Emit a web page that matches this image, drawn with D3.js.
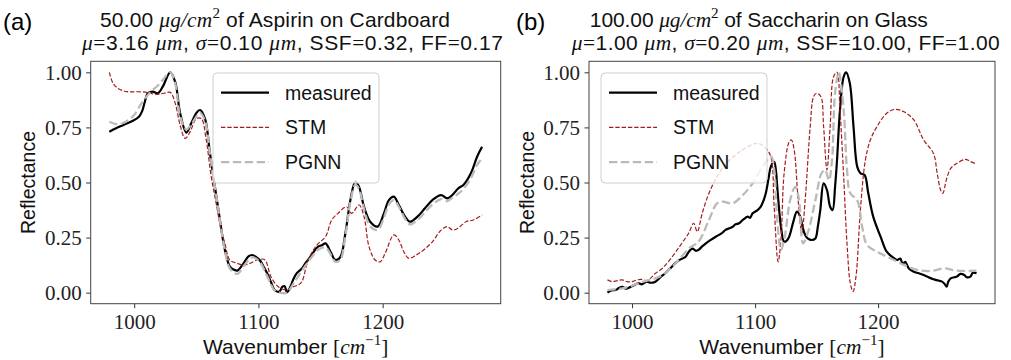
<!DOCTYPE html>
<html><head><meta charset="utf-8">
<script src="https://cdn.jsdelivr.net/npm/d3@7"></script>
<style>body{margin:0;background:#fff} text{white-space:pre}</style>
</head><body>
<svg id="c" width="1011" height="360"></svg>
<script>
// ---------- data ----------
const xTicks = [1000, 1100, 1200];
const yTicks = [0, 0.25, 0.5, 0.75, 1.0];
const seriesNames = ["measured", "STM", "PGNN"];
const panelLetters = ["(a)", "(b)"];

// Panel (a): Aspirin on Cardboard  [wavenumber, reflectance]
const aspirinMeasured = [[980,0.73],[985,0.745],[991,0.76],[999,0.78],[1004,0.80],[1006.5,0.825],[1008.5,0.865],[1011,0.905],[1015,0.912],[1019,0.905],[1023,0.935],[1029,1.0],[1033,0.957],[1037,0.814],[1042,0.726],[1046,0.77],[1050,0.815],[1053,0.829],[1057,0.79],[1061,0.632],[1065,0.48],[1069,0.33],[1073,0.194],[1077,0.118],[1080,0.105],[1083,0.10],[1088,0.133],[1092,0.165],[1095,0.171],[1098,0.162],[1101,0.148],[1104,0.12],[1107,0.088],[1110,0.05],[1113,0.012],[1117,0.005],[1119,0.025],[1121,0.03],[1123,0.002],[1126,0.03],[1128,0.06],[1131,0.09],[1135,0.11],[1138,0.135],[1142,0.163],[1145,0.19],[1148,0.209],[1151,0.215],[1154,0.224],[1158,0.186],[1162,0.148],[1166,0.163],[1170,0.27],[1174,0.42],[1178,0.504],[1181,0.48],[1185,0.39],[1190,0.322],[1196,0.30],[1201,0.36],[1205,0.42],[1209,0.436],[1213,0.398],[1218,0.345],[1222,0.322],[1228,0.345],[1234,0.383],[1240,0.42],[1247,0.443],[1252,0.428],[1256,0.443],[1261,0.474],[1265,0.489],[1271,0.542],[1276,0.617],[1280,0.662]];
const aspirinSTM = [[980,1.0],[983,0.95],[987,0.927],[994,0.912],[1002,0.912],[1009,0.91],[1013,0.905],[1018,0.90],[1024,0.905],[1029,0.909],[1033,0.86],[1037,0.76],[1041,0.70],[1045,0.73],[1050,0.79],[1054,0.79],[1058,0.693],[1062,0.526],[1066,0.405],[1070,0.284],[1073,0.224],[1077,0.148],[1083,0.133],[1088,0.125],[1093,0.133],[1099,0.148],[1105,0.15],[1110,0.073],[1116,0.027],[1123,0.012],[1128,0.027],[1132,0.035],[1135,0.05],[1140,0.148],[1147,0.216],[1154,0.254],[1159,0.33],[1164,0.36],[1171,0.39],[1175,0.36],[1181,0.398],[1185,0.345],[1189,0.209],[1194,0.148],[1198,0.14],[1202,0.179],[1209,0.262],[1213,0.239],[1217,0.186],[1221,0.156],[1227,0.171],[1233,0.194],[1240,0.231],[1247,0.284],[1252,0.30],[1256,0.285],[1260,0.29],[1267,0.322],[1273,0.33],[1280,0.352]];
const aspirinPGNN = [[980,0.776],[986,0.765],[991,0.77],[999,0.80],[1006,0.86],[1013,0.91],[1019,0.94],[1023,0.965],[1029,1.0],[1033,0.95],[1037,0.80],[1042,0.74],[1046,0.765],[1053,0.815],[1057,0.78],[1061,0.63],[1065,0.48],[1069,0.33],[1073,0.19],[1077,0.11],[1083,0.085],[1088,0.12],[1095,0.16],[1101,0.14],[1107,0.075],[1113,0.01],[1117,0.0],[1123,0.0],[1128,0.04],[1135,0.10],[1142,0.155],[1148,0.195],[1154,0.205],[1158,0.175],[1162,0.14],[1166,0.15],[1170,0.26],[1174,0.41],[1178,0.49],[1181,0.47],[1185,0.38],[1190,0.30],[1196,0.285],[1201,0.34],[1205,0.40],[1209,0.42],[1213,0.39],[1218,0.335],[1222,0.31],[1228,0.33],[1234,0.365],[1240,0.40],[1247,0.425],[1252,0.415],[1256,0.43],[1261,0.45],[1265,0.47],[1271,0.52],[1276,0.58],[1280,0.61]];

// Panel (b): Saccharin on Glass
const saccharinMeasured = [[980,0.0],[983,0.01],[986.5,0.012],[989,0.02],[992,0.027],[995,0.018],[999,0.027],[1002,0.035],[1005,0.043],[1008,0.038],[1012,0.05],[1015,0.045],[1019,0.05],[1023,0.07],[1027,0.088],[1031,0.11],[1035,0.133],[1039,0.15],[1043.5,0.163],[1046,0.185],[1049,0.2],[1052,0.19],[1054,0.194],[1057,0.21],[1060,0.224],[1064,0.24],[1068,0.254],[1073,0.27],[1076,0.285],[1079,0.292],[1082,0.30],[1084,0.31],[1087,0.315],[1090,0.33],[1094,0.345],[1096,0.34],[1098,0.36],[1102,0.375],[1104.6,0.39],[1107,0.42],[1108.7,0.451],[1111,0.52],[1112.8,0.572],[1115.5,0.594],[1117,0.55],[1118,0.48],[1119.5,0.38],[1121,0.30],[1123.6,0.231],[1125.5,0.235],[1127.7,0.254],[1131,0.32],[1134,0.368],[1136.7,0.345],[1138.5,0.3],[1140.7,0.262],[1143,0.245],[1146,0.239],[1149,0.246],[1151,0.3],[1153,0.375],[1155.7,0.496],[1158.4,0.466],[1161,0.39],[1163,0.375],[1165,0.48],[1166.6,0.602],[1169,0.829],[1172,0.98],[1174,1.0],[1177,0.95],[1180,0.753],[1183,0.572],[1185.6,0.542],[1189,0.534],[1192,0.451],[1196,0.345],[1202,0.254],[1207,0.186],[1211,0.165],[1215.5,0.148],[1218,0.155],[1220,0.13],[1222,0.14],[1225,0.11],[1229,0.095],[1233,0.088],[1237,0.08],[1241,0.07],[1245,0.061],[1249,0.055],[1252,0.05],[1254,0.04],[1255.7,0.027],[1257,0.05],[1259,0.065],[1262,0.07],[1264,0.073],[1267,0.085],[1270,0.08],[1272,0.07],[1275,0.073],[1277,0.09],[1280,0.088]];
const saccharinSTM = [[980,0.058],[984,0.05],[988,0.055],[992,0.058],[996,0.05],[1000,0.05],[1004,0.058],[1008,0.06],[1012,0.055],[1015,0.065],[1019,0.088],[1024.5,0.11],[1032.6,0.163],[1039.4,0.216],[1046,0.27],[1050,0.315],[1053,0.277],[1057,0.36],[1062.5,0.451],[1070.7,0.542],[1079,0.60],[1089.6,0.647],[1102,0.678],[1108.7,0.655],[1112.8,0.617],[1115.5,0.39],[1118.7,0.14],[1121,0.239],[1123.6,0.542],[1127.7,0.685],[1129.5,0.693],[1131.8,0.647],[1135,0.42],[1138,0.27],[1140.7,0.42],[1144.8,0.753],[1147.5,0.889],[1150,0.905],[1153.5,0.889],[1155.7,0.753],[1158.4,0.557],[1161,0.753],[1163.8,0.98],[1166.6,1.0],[1169,0.83],[1172,0.526],[1174.7,0.224],[1177.4,0.043],[1179.6,0.005],[1182,0.073],[1185.6,0.375],[1189.6,0.60],[1193.7,0.693],[1199,0.753],[1207,0.814],[1214,0.832],[1221,0.821],[1229,0.784],[1237,0.693],[1245,0.632],[1248,0.542],[1250.8,0.466],[1252.6,0.451],[1255.4,0.511],[1259,0.564],[1264,0.587],[1271,0.605],[1275,0.595],[1280,0.584]];
const saccharinPGNN = [[980,0.012],[986,0.015],[992,0.02],[999,0.03],[1005,0.043],[1012,0.055],[1019,0.065],[1027,0.088],[1033,0.12],[1038,0.148],[1046,0.2],[1054,0.231],[1062.5,0.33],[1069,0.405],[1074,0.413],[1081.5,0.405],[1090,0.443],[1098,0.496],[1106,0.572],[1113,0.617],[1115.5,0.56],[1118,0.33],[1121,0.194],[1124,0.25],[1128.5,0.42],[1132.6,0.48],[1135.5,0.43],[1139,0.224],[1143.5,0.284],[1149,0.42],[1154,0.542],[1157,0.557],[1160,0.51],[1162.5,0.60],[1165,0.905],[1168,1.0],[1172,0.83],[1174.7,0.557],[1177.4,0.451],[1183,0.42],[1187,0.30],[1191,0.216],[1199,0.186],[1210,0.156],[1221,0.126],[1232,0.103],[1242.6,0.098],[1253.5,0.11],[1264,0.10],[1280,0.10]];

const panels = [
  { letter: panelLetters[0], series: [aspirinMeasured, aspirinSTM, aspirinPGNN],
    line1: [["50.00 ","s"],["μg/cm","m"],["2","sup"],[" of Aspirin on Cardboard","s"]],
    line2: [["μ","m"],["=","r"],["3.16 ","s"],["μm","m"],[", ","s"],["σ","m"],["=","r"],["0.10 ","s"],["μm","m"],[", SSF","s"],["=","r"],["0.32, FF","s"],["=","r"],["0.17","s"]] },
  { letter: panelLetters[1], series: [saccharinMeasured, saccharinSTM, saccharinPGNN],
    line1: [["100.00 ","s"],["μg/cm","m"],["2","sup"],[" of Saccharin on Glass","s"]],
    line2: [["μ","m"],["=","r"],["1.00 ","s"],["μm","m"],[", ","s"],["σ","m"],["=","r"],["0.20 ","s"],["μm","m"],[", SSF","s"],["=","r"],["10.00, FF","s"],["=","r"],["1.00","s"]] }
];

// ---------- style ----------
const SANS = "'Liberation Sans', Arial, sans-serif";
const SERIF = "'Liberation Serif', 'Times New Roman', serif";
const styles = [
  { stroke: "#000000", width: 2.2, dash: null },
  { stroke: "#a41d1d", width: 1.2, dash: "4.4,1.9" },
  { stroke: "#bababa", width: 2.3, dash: "8.3,3.6" }
];
const layout = [
  { left: 90.7, right: 500.7, legendX: 122.3, t2center: 292.5, t2w: 421, t1w: 350, letterX: 3 },
  { left: 589, right: 995, legendX: 12, t2center: 785.8, t2w: 428, t1w: 338, letterX: 516 }
];
const axTop = 61.3, axBottom = 303.7;

const svg = d3.select("#c");

function rich(textSel, segs, fs) {
  let shift = 0;
  segs.forEach(([t, k]) => {
    const ts = textSel.append("tspan").text(t);
    const target = k === "sup" ? -fs * 0.42 : 0;
    if (target - shift !== 0) ts.attr("dy", target - shift);
    shift = target;
    if (k === "s") ts.attr("font-family", SANS).attr("font-size", fs);
    else if (k === "m") ts.attr("font-family", SERIF).attr("font-style", "italic").attr("font-size", fs * 1.02);
    else if (k === "r") ts.attr("font-family", SERIF).attr("font-size", fs * 1.02);
    else ts.attr("font-family", SERIF).attr("font-size", fs * 0.72);
  });
}

panels.forEach((p, i) => {
  const L = layout[i];
  const x = d3.scaleLinear().domain([965, 1295]).range([L.left, L.right]);
  const y = d3.scaleLinear().domain([-0.05, 1.05]).range([axBottom, axTop]);
  const g = svg.append("g");

  // lines
  const line = d3.line().x(d => x(d[0])).y(d => y(d[1])).curve(d3.curveCatmullRom.alpha(0.5));
  p.series.forEach((s, k) => {
    g.append("path").datum(s).attr("d", line)
      .attr("fill", "none").attr("stroke", styles[k].stroke)
      .attr("stroke-width", styles[k].width)
      .attr("stroke-dasharray", styles[k].dash)
      .attr("stroke-linejoin", "round");
  });

  // axes
  const xa = g.append("g").attr("transform", `translate(0,${axBottom})`)
    .call(d3.axisBottom(x).tickValues(xTicks).tickSize(4.5).tickPadding(6).tickFormat(d3.format("d")));
  const ya = g.append("g").attr("transform", `translate(${L.left},0)`)
    .call(d3.axisLeft(y).tickValues(yTicks).tickSize(4.5).tickPadding(4.5).tickFormat(d3.format(".2f")));
  [xa, ya].forEach(a => {
    a.select(".domain").remove();
    a.selectAll(".tick line").attr("stroke", "#333").attr("stroke-width", 1);
    a.selectAll(".tick text").attr("font-family", SERIF).attr("font-size", 21).attr("fill", "#222");
  });
  g.append("rect").attr("x", L.left).attr("y", axTop).attr("width", L.right - L.left)
    .attr("height", axBottom - axTop).attr("fill", "none").attr("stroke", "#444").attr("stroke-width", 1);

  // legend
  const ly = 73, lw = 166, lh = 110;
  const lg = g.append("g").attr("transform", `translate(${L.left + L.legendX},${ly})`);
  lg.append("rect").attr("width", lw).attr("height", lh).attr("rx", 4)
    .attr("fill", "#fff").attr("fill-opacity", 0.8).attr("stroke", "#cfcfcf").attr("stroke-width", 1);
  seriesNames.forEach((n, k) => {
    const yy = 19.7 + k * 34.7;
    lg.append("line").attr("x1", 8).attr("x2", 56).attr("y1", yy).attr("y2", yy)
      .attr("stroke", styles[k].stroke).attr("stroke-width", styles[k].width)
      .attr("stroke-dasharray", styles[k].dash);
    lg.append("text").attr("x", 72).attr("y", yy + 7).text(n)
      .attr("font-family", SANS).attr("font-size", 19.5).attr("fill", "#111");
  });

  // axis labels
  const xl = svg.append("text").attr("x", (L.left + L.right) / 2).attr("y", 354)
    .attr("text-anchor", "middle").attr("fill", "#111");
  rich(xl, [["Wavenumber ","s"],["[","r"],["cm","m"],["−1","sup"],["]","r"]], 21);
  svg.append("text").attr("transform", `translate(${L.left - 55.5},${(axTop + axBottom) / 2}) rotate(-90)`)
    .attr("text-anchor", "middle").attr("font-family", SANS).attr("font-size", 19.5)
    .attr("fill", "#111").text("Reflectance");

  // titles
  const t2 = svg.append("text").attr("x", L.t2center).attr("y", 49.5).attr("text-anchor", "middle")
    .attr("fill", "#111").attr("textLength", L.t2w).attr("lengthAdjust", "spacing");
  rich(t2, p.line2, 21);
  const t1 = svg.append("text").attr("x", L.t2center - L.t2w / 2 + 18).attr("y", 27)
    .attr("fill", "#111").attr("textLength", L.t1w).attr("lengthAdjust", "spacing");
  rich(t1, p.line1, 21);

  svg.append("text").attr("x", L.letterX).attr("y", 29.5)
    .attr("font-family", SANS).attr("font-size", 24).attr("fill", "#000").text(p.letter);
});
</script>
</body></html>
